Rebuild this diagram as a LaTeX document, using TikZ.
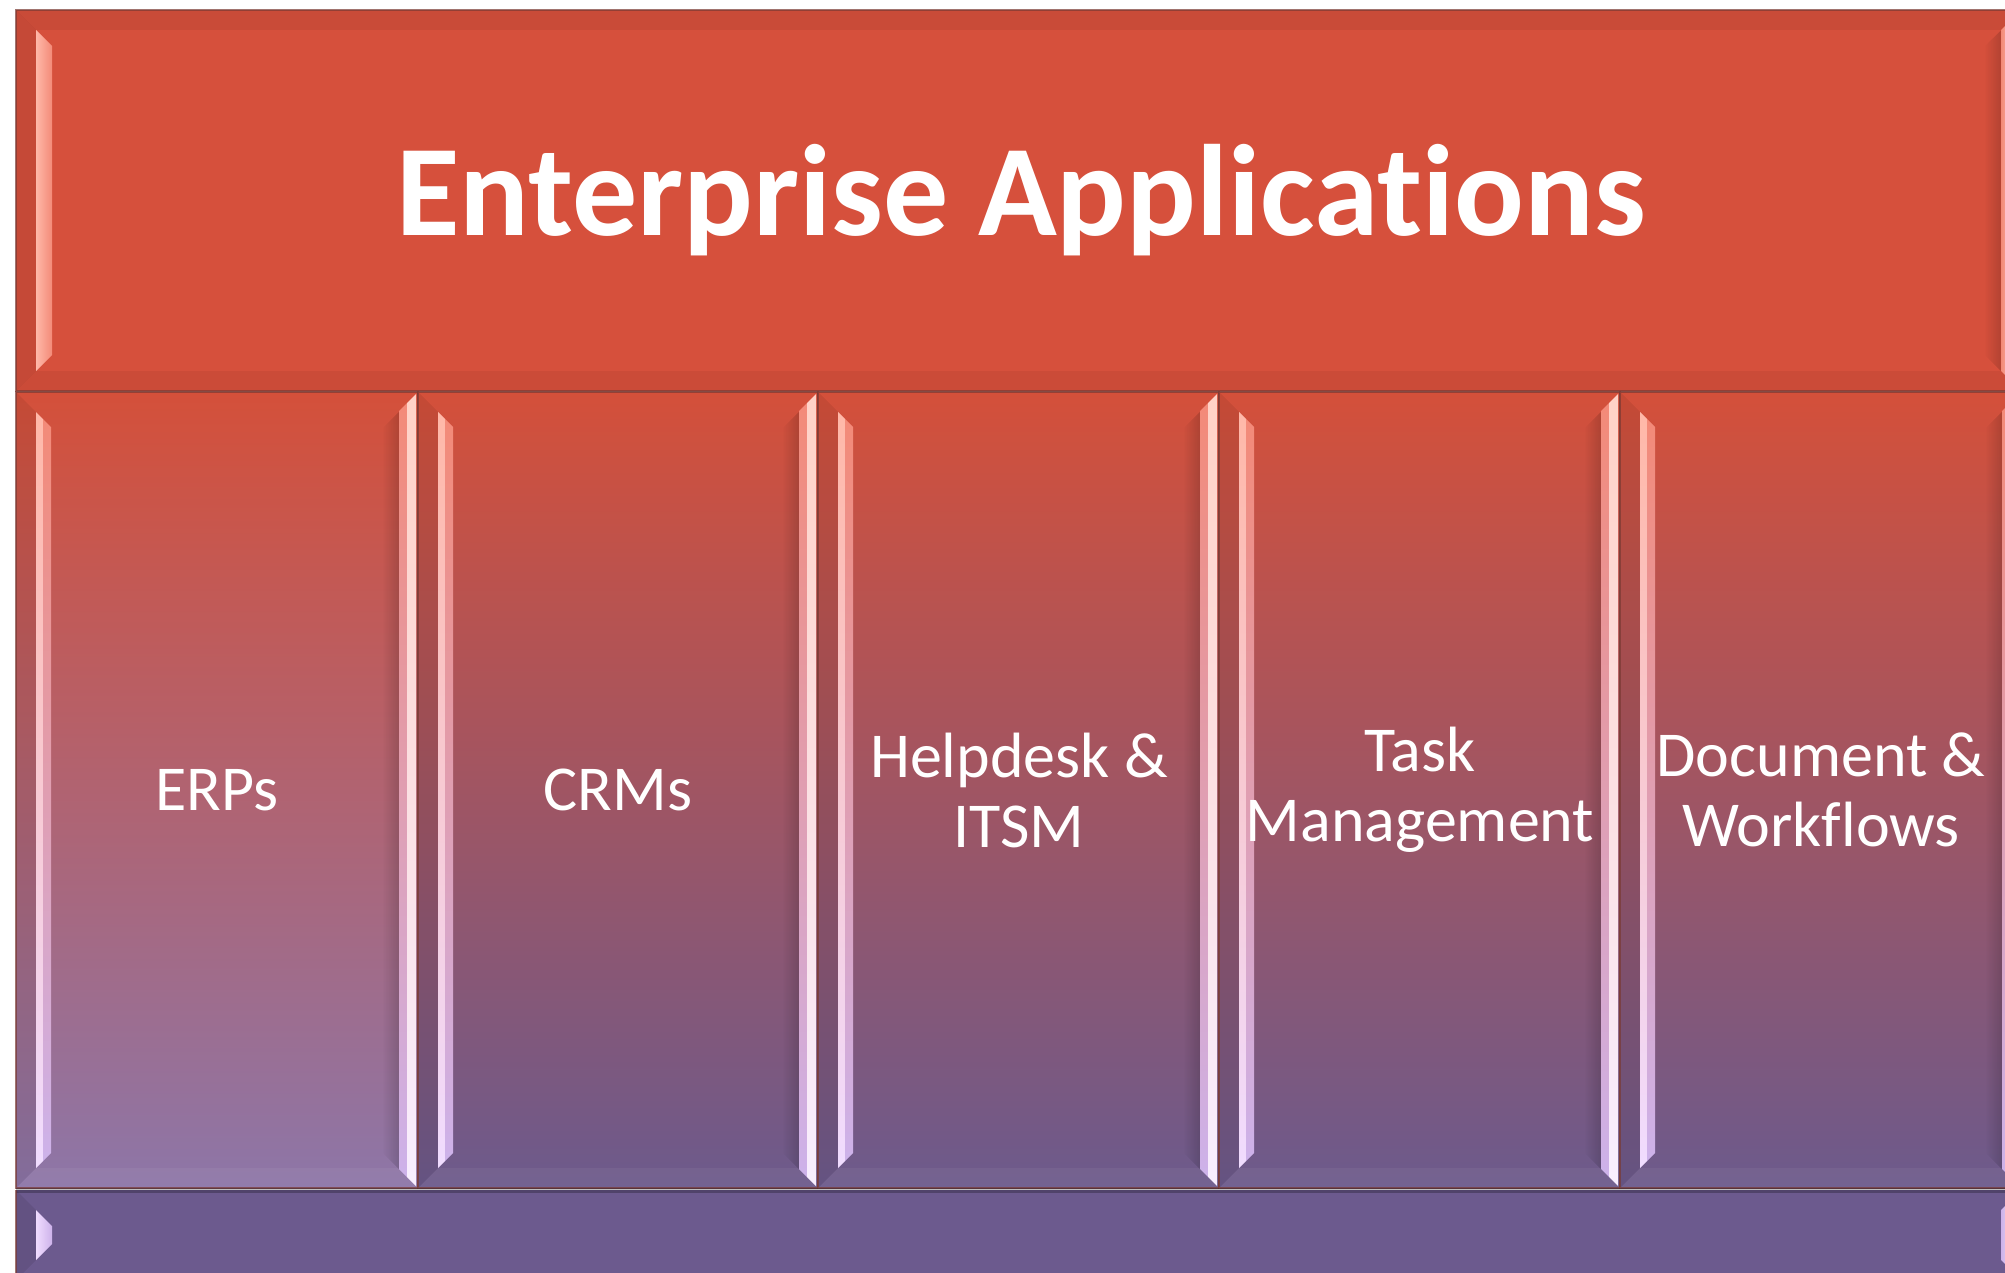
\documentclass[tikz,border=0pt]{standalone}
\usepackage{fontspec}
\setmainfont{Carlito}[Ligatures={NoCommon}]
\usetikzlibrary{fadings}
\tikzfading[name=fadeinright, left color=transparent!100, right color=transparent!0]
\definecolor{bannerred}{HTML}{D6503C}
\definecolor{coltop}{HTML}{D4503A}
\definecolor{erpmid}{HTML}{B9606B}
\definecolor{erpbot}{HTML}{8D76A8}
\definecolor{colmid}{HTML}{A8566A}
\definecolor{colbot}{HTML}{6C5A8C}
\definecolor{barcol}{HTML}{6C5A8E}
\definecolor{edgedark}{HTML}{7A3A34}
\definecolor{hlLtop}{HTML}{FFB8A8}
\definecolor{hlLbot}{HTML}{F0DCFF}
\definecolor{hlMtop}{HTML}{F38A78}
\definecolor{hlMbot}{HTML}{CDB2EA}
\definecolor{hlRtop}{HTML}{FFD2C6}
\definecolor{hlRbot}{HTML}{F8EEFF}
\tikzset{
  colbox/.style={inner sep=0pt, text=white, align=center,
    font=\fontsize{64}{70}\selectfont},
  titlebox/.style={inner sep=0pt, text=white,
    font=\bfseries\fontsize{130}{140}\selectfont},
  shadowband/.style={fill=black, opacity=0.07},
  softshadow/.style={fill=black, fill opacity=0.16, path fading=fadeinright},
  litband/.style={fill=white, opacity=0.05},
  rim/.style={draw=edgedark, line width=1.6pt, opacity=0.7},
}
% generic bevelled panel: x0, y0, x1, y1, top colour, middle colour, bottom colour
\newcommand\BevPanel[7]{%
  \shade[top color=#5, middle color=#6, bottom color=#7] (#1,#2) rectangle (#3,#4);
  \fill[shadowband] (#1,#2) -- (#1+20,#2+20) -- (#1+20,#4-20) -- (#1,#4) -- cycle;
  \fill[litband] (#1,#4) -- (#1+20,#4-20) -- (#3-20,#4-20) -- (#3,#4) -- cycle;
  \fill[softshadow] (#3-36,#2+36) -- (#3-19,#2+19) -- (#3-19,#4-19) -- (#3-36,#4-36) -- cycle;
  \shade[top color=hlLtop, bottom color=hlLbot] (#1+20,#2+20) -- (#1+27,#2+27) -- (#1+27,#4-27) -- (#1+20,#4-20) -- cycle;
  \shade[top color=hlMtop, bottom color=hlMbot] (#1+27,#2+27) -- (#1+35,#2+35) -- (#1+35,#4-35) -- (#1+27,#4-27) -- cycle;
  \shade[top color=hlMtop, bottom color=hlMbot] (#3-19,#2+19) -- (#3-11,#2+11) -- (#3-11,#4-11) -- (#3-19,#4-19) -- cycle;
  \shade[top color=hlRtop, bottom color=hlRbot] (#3-11,#2+11) -- (#3-2,#2+2) -- (#3-2,#4-2) -- (#3-11,#4-11) -- cycle;
  \draw[rim] (#1,#2) rectangle (#3,#4);
}
\begin{document}
\begin{tikzpicture}[x=1pt,y=-1pt]
\useasboundingbox (0,0) rectangle (2005,1273);
\fill[white] (0,0) rectangle (2005,1273);

% ---- banner ----
\fill[bannerred] (16,10) rectangle (2021,391);
\fill[black,opacity=0.06] (16,10) -- (2021,10) -- (2001,30) -- (36,30) -- cycle;
\fill[black,opacity=0.08] (16,10) -- (36,30) -- (36,371) -- (16,391) -- cycle;
\fill[black,opacity=0.05] (16,391) -- (36,371) -- (2001,371) -- (2021,391) -- cycle;
\fill[softshadow] (1984,47) -- (2001,30) -- (2001,371) -- (1984,354) -- cycle;
\shade[left color=hlLtop, right color=hlMtop] (36,30) -- (52,46) -- (52,355) -- (36,371) -- cycle;
\shade[left color=hlMtop, right color=hlRtop] (2001,30) -- (2019,12) -- (2019,389) -- (2001,371) -- cycle;
\draw[rim] (16,10) rectangle (2021,391);
\node[titlebox, anchor=base] (title) at (1021,236) {Enterprise Applications};

% ---- columns ----
\BevPanel{16}{392}{418}{1188}{coltop}{erpmid}{erpbot}
\BevPanel{418}{392}{818}{1188}{coltop}{colmid}{colbot}
\BevPanel{818}{392}{1219}{1188}{coltop}{colmid}{colbot}
\BevPanel{1219}{392}{1620}{1188}{coltop}{colmid}{colbot}
\BevPanel{1620}{392}{2021}{1188}{coltop}{colmid}{colbot}

\node[colbox] (erp)  at (217,790)  {ERPs};
\node[colbox] (crm)  at (618,790)  {CRMs};
\node[colbox] (help) at (1019,790) {Helpdesk \&\\ITSM};
\node[colbox] (task) at (1420,790) {Task\\Management};
\node[colbox] (doc)  at (1821,790) {Document \&\\Workflows};

% ---- bottom bar ----
\fill[barcol] (16,1190) rectangle (2021,1280);
\fill[black,opacity=0.08] (16,1190) -- (36,1210) -- (36,1260) -- (16,1280) -- cycle;
\fill[black,opacity=0.25] (16,1188) rectangle (2021,1193);
\shade[left color=hlLbot, right color=hlMbot] (36,1210) -- (52,1226) -- (52,1244) -- (36,1260) -- cycle;
\shade[left color=hlMbot, right color=hlRbot] (2001,1210) -- (2019,1192) -- (2019,1278) -- (2001,1260) -- cycle;
\draw[rim] (16,1190) -- (16,1280);
\end{tikzpicture}
\end{document}
